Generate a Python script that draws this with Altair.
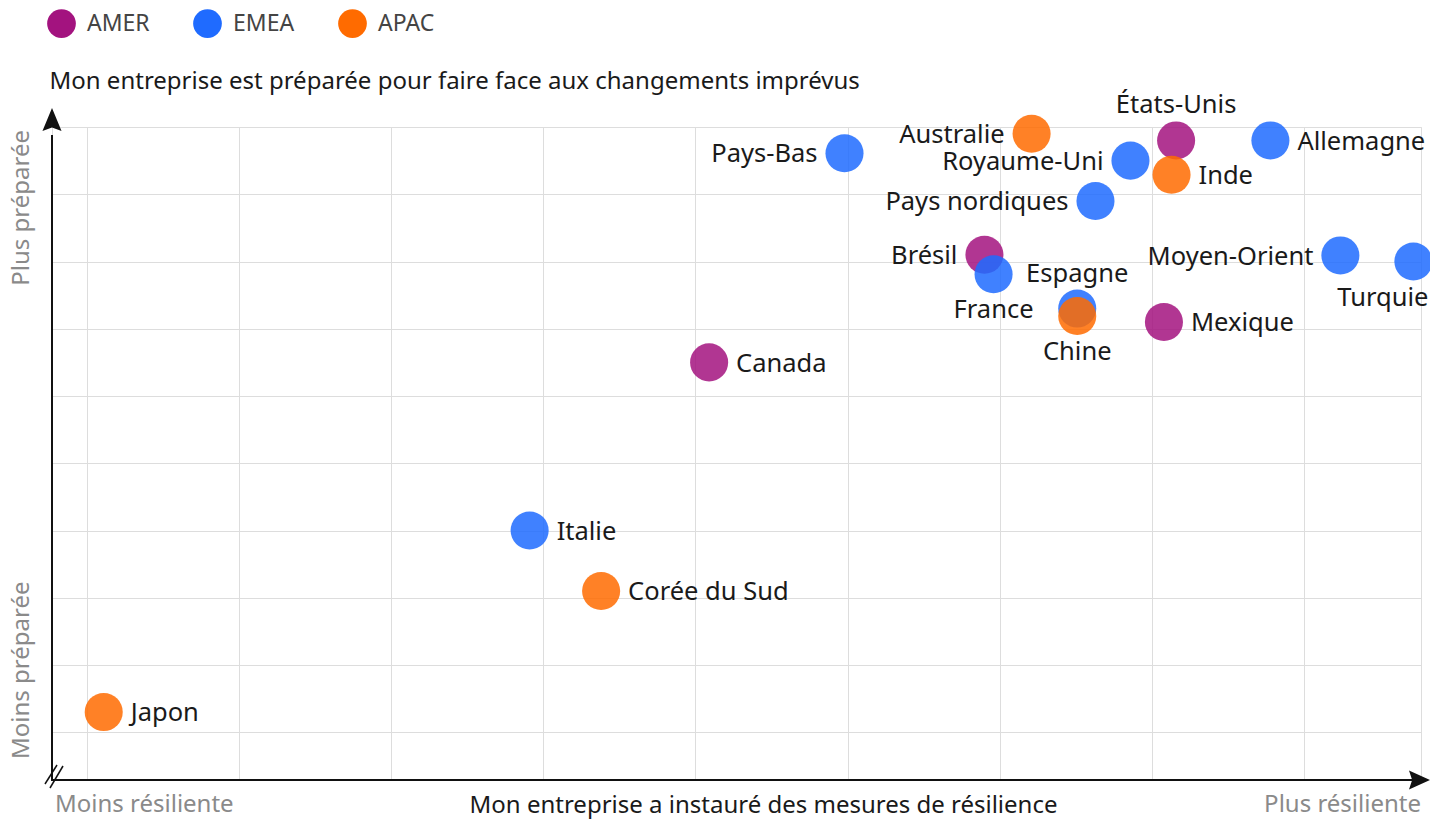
import altair as alt
import pandas as pd

# ---- data ----
countries = ["Japon", "Corée du Sud", "Italie", "Canada", "Pays-Bas", "Australie",
             "États-Unis", "Allemagne", "Royaume-Uni", "Inde", "Pays nordiques",
             "Brésil", "France", "Espagne", "Chine", "Mexique", "Moyen-Orient", "Turquie"]
regions = ["APAC", "APAC", "EMEA", "AMER", "EMEA", "APAC",
           "AMER", "EMEA", "EMEA", "APAC", "EMEA",
           "AMER", "EMEA", "EMEA", "APAC", "AMER", "EMEA", "EMEA"]
resilience = [0.11, 3.38, 2.91, 4.09, 4.98, 6.21,
              7.16, 7.78, 6.86, 7.13, 6.63,
              5.90, 5.96, 6.51, 6.51, 7.08, 8.24, 8.72]
preparedness = [0.30, 2.10, 3.00, 5.50, 8.61, 8.90,
                8.80, 8.80, 8.50, 8.29, 7.90,
                7.10, 6.81, 6.30, 6.19, 6.10, 7.09, 7.00]
label_side = ["right", "right", "right", "right", "left", "left",
              "top", "right", "left", "right", "left",
              "left", "bottom", "top", "bottom", "right", "left", "bottom-end"]

region_order = ["AMER", "EMEA", "APAC"]
region_colors = ["#A3137F", "#1F6BFF", "#FF6B00"]

x_ticks = list(range(0, 9))
y_ticks = list(range(0, 10))
x_domain = [-0.23, 8.77]
y_domain = [-0.71, 9.0]

x_title = "Mon entreprise a instauré des mesures de résilience"
y_title = "Mon entreprise est préparée pour faire face aux changements imprévus"

df = pd.DataFrame({
    "country": countries,
    "region": regions,
    "resilience": resilience,
    "preparedness": preparedness,
    "side": label_side,
})
one = pd.DataFrame({"k": [0]})

FONT = "Noto Sans"
W, H = 1369, 653
INK = "#111111"
BASE = 685  # baseline of the bottom texts, in plot pixels

x_enc = alt.X("resilience:Q",
              scale=alt.Scale(domain=x_domain, nice=False, zero=False),
              axis=alt.Axis(values=x_ticks, grid=True, labels=False, ticks=False, domain=False,
                            title=x_title, titleFont=FONT, titleFontSize=24,
                            titleFontWeight="normal", titleColor="#1a1a1a",
                            titleX=711, titleY=BASE - H, titleAlign="center",
                            titleBaseline="alphabetic"))
y_enc = alt.Y("preparedness:Q",
              scale=alt.Scale(domain=y_domain, nice=False, zero=False),
              axis=alt.Axis(values=y_ticks, grid=True, labels=False, ticks=False, domain=False,
                            title=y_title, titleFont=FONT, titleFontSize=24,
                            titleFontWeight="normal", titleColor="#1a1a1a",
                            titleAngle=0, titleAlign="left", titleBaseline="alphabetic",
                            titleX=-3, titleY=-39))

points = alt.Chart(df).mark_circle(size=1450, opacity=0.85).encode(
    x=x_enc, y=y_enc,
    color=alt.Color("region:N",
                    scale=alt.Scale(domain=region_order, range=region_colors),
                    legend=alt.Legend(title=None, orient="none", legendX=-5, legendY=-118,
                                      direction="horizontal", symbolType="circle",
                                      symbolSize=824, symbolOpacity=1, symbolStrokeWidth=0,
                                      labelFont=FONT, labelFontSize=23, labelColor="#444444",
                                      labelOffset=11, columnPadding=43, padding=0)),
)


def label_layer(side, align, dx, dy):
    return alt.Chart(df).transform_filter(alt.datum.side == side).mark_text(
        align=align, baseline="alphabetic", dx=dx, dy=dy,
        font=FONT, fontSize=25.5, color="#1a1a1a",
    ).encode(x=x_enc, y=y_enc, text="country:N")


labels = [
    label_layer("right", "left", 27, 9.2),
    label_layer("left", "right", -27, 9.2),
    label_layer("top", "center", 0, -27),
    label_layer("bottom", "center", 0, 44),
    label_layer("bottom-end", "right", 15, 44),
]

# ---- axis arrows and decorations (pixel space of the plot area) ----
y_shaft = alt.Chart(one).mark_rule(color=INK, strokeWidth=2).encode(
    x=alt.value(0), y=alt.value(H), y2=alt.value(8))
x_shaft = alt.Chart(one).mark_rule(color=INK, strokeWidth=2).encode(
    y=alt.value(H), x=alt.value(-1), x2=alt.value(W))
y_head = alt.Chart(one).mark_point(
    shape="M0,-1L0.83,1L0,0.7L-0.83,1Z", size=529, filled=True, opacity=1,
    color=INK, strokeWidth=0).encode(x=alt.value(0), y=alt.value(-7.5))
x_head = alt.Chart(one).mark_point(
    shape="M1,0L-1,0.9L-0.7,0L-1,-0.9Z", size=441, filled=True, opacity=1,
    color=INK, strokeWidth=0).encode(x=alt.value(W - 1.5), y=alt.value(H))
slash1 = alt.Chart(one).mark_rule(color=INK, strokeWidth=1.5).encode(
    x=alt.value(-7), y=alt.value(H + 4), x2=alt.value(5), y2=alt.value(H - 15))
slash2 = alt.Chart(one).mark_rule(color=INK, strokeWidth=1.5).encode(
    x=alt.value(-2), y=alt.value(H + 8), x2=alt.value(11), y2=alt.value(H - 14))

GREY = "#8a8a8a"
t_moins_res = alt.Chart(one).mark_text(
    text="Moins résiliente", align="left", baseline="alphabetic",
    font=FONT, fontSize=24, color=GREY).encode(x=alt.value(3), y=alt.value(BASE))
t_plus_res = alt.Chart(one).mark_text(
    text="Plus résiliente", align="right", baseline="alphabetic",
    font=FONT, fontSize=24, color=GREY).encode(x=alt.value(W), y=alt.value(BASE))
t_plus_prep = alt.Chart(one).mark_text(
    text="Plus préparée", align="right", baseline="alphabetic", angle=270,
    font=FONT, fontSize=24, color=GREY).encode(x=alt.value(-22.7), y=alt.value(3))
t_moins_prep = alt.Chart(one).mark_text(
    text="Moins préparée", align="left", baseline="alphabetic", angle=270,
    font=FONT, fontSize=24, color=GREY).encode(x=alt.value(-22.7), y=alt.value(632))

chart = alt.layer(
    points, *labels,
    y_shaft, x_shaft, y_head, x_head, slash1, slash2,
    t_moins_res, t_plus_res, t_plus_prep, t_moins_prep,
).properties(
    width=W, height=H,
    autosize=alt.AutoSizeParams(type="none"),
    padding={"left": 44, "top": 119, "right": 9, "bottom": 39},
    background="white",
).configure_view(
    stroke="#EBEBEB", strokeWidth=1,
).configure_axis(
    gridColor="#EBEBEB", gridWidth=1,
).configure(font=FONT)

chart.save("out.html", embed_options={"renderer": "svg", "actions": False})
